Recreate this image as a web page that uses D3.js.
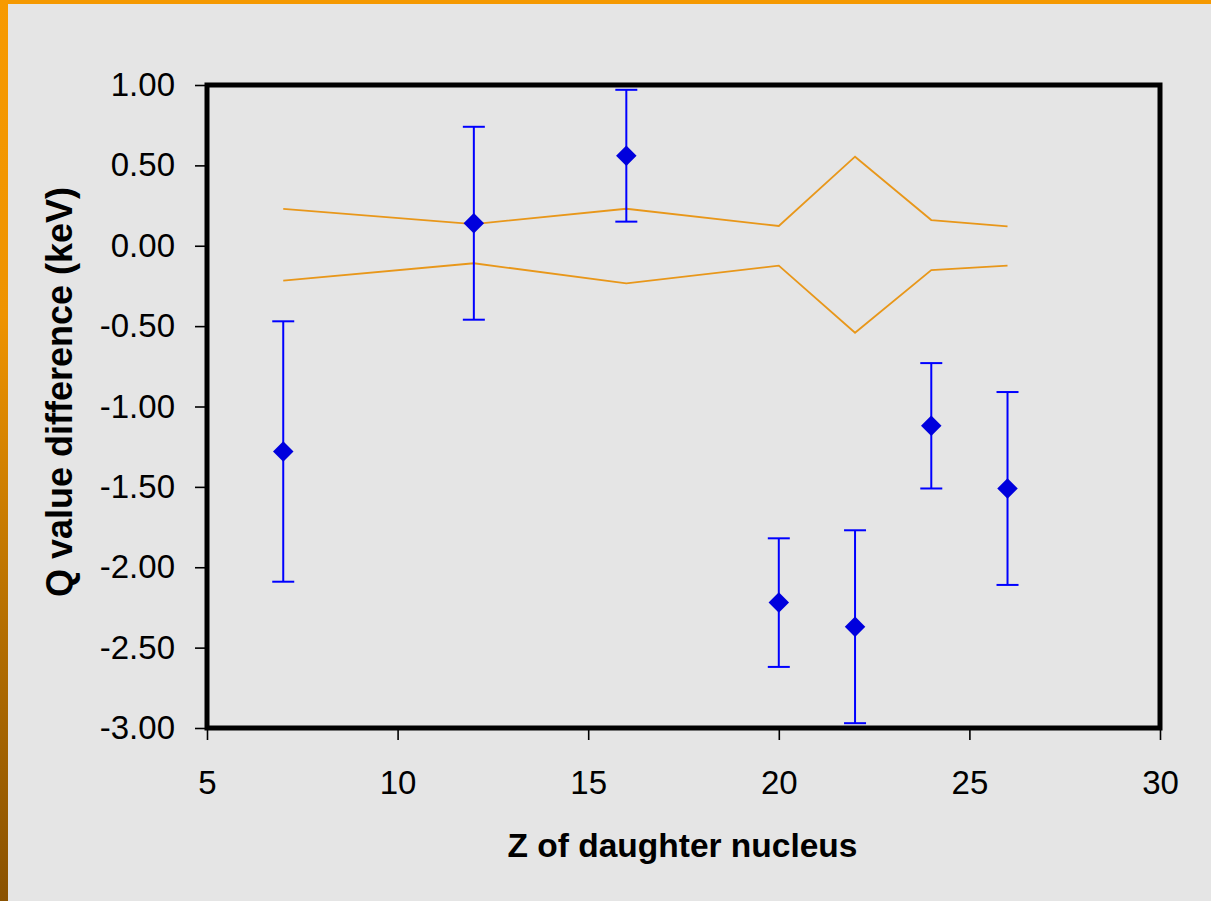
<!DOCTYPE html>
<html>
<head>
<meta charset="utf-8">
<script src="https://cdn.jsdelivr.net/npm/d3@7"></script>
<style>
  html, body { margin: 0; padding: 0; background: #e5e5e5; }
  svg { display: block; }
  text { font-family: "Liberation Sans", Arial, sans-serif; fill: #000; }
</style>
</head>
<body>
<svg id="chart" width="1211" height="901"></svg>
<script>
// Atomic number of the daughter nucleus for each measured decay
const zDaughter = [7, 12, 16, 20, 22, 24, 26];
// Measured Q value difference (keV) and its one-sigma uncertainty
const qDiff = [-1.28, 0.14, 0.56, -2.22, -2.37, -1.12, -1.51];
const qErr  = [0.81, 0.60, 0.41, 0.40, 0.60, 0.39, 0.60];
// Upper and lower edges of the reference uncertainty band (keV)
const bandUpper = [0.23, 0.135, 0.23, 0.123, 0.554, 0.16, 0.121];
const bandLower = [-0.217, -0.109, -0.234, -0.124, -0.541, -0.151, -0.124];
// Axis ticks
const xTicks = [5, 10, 15, 20, 25, 30];
const yTicks = [1.0, 0.5, 0.0, -0.5, -1.0, -1.5, -2.0, -2.5, -3.0];

const W = 1211, H = 901;
const plot = { left: 207, right: 1160, top: 85, bottom: 728 };

const svg = d3.select("#chart");

// Slide frame: orange top strip and left strip fading to brown
const defs = svg.append("defs");
const grad = defs.append("linearGradient")
  .attr("id", "edgeFade").attr("x1", 0).attr("y1", 0).attr("x2", 0).attr("y2", 1);
grad.append("stop").attr("offset", "0%").attr("stop-color", "#f79a00");
grad.append("stop").attr("offset", "35%").attr("stop-color", "#ee9300");
grad.append("stop").attr("offset", "70%").attr("stop-color", "#b46e00");
grad.append("stop").attr("offset", "100%").attr("stop-color", "#8a5200");

svg.append("rect").attr("width", W).attr("height", H).attr("fill", "#e5e5e5");
svg.append("rect").attr("x", 0).attr("y", 0).attr("width", W).attr("height", 4).attr("fill", "#f59900");
svg.append("rect").attr("x", 0).attr("y", 0).attr("width", 8).attr("height", H).attr("fill", "url(#edgeFade)");

const x = d3.scaleLinear().domain([5, 30]).range([plot.left, plot.right]);
const y = d3.scaleLinear().domain([-3, 1]).range([plot.bottom, plot.top]);

// Axes with ticks on the outside
const yAxis = d3.axisLeft(y).tickValues(yTicks).tickSize(12).tickPadding(20)
  .tickFormat(d => d.toFixed(2));
const xAxis = d3.axisBottom(x).tickValues(xTicks).tickSize(12).tickPadding(31)
  .tickFormat(d => String(d));

const gy = svg.append("g").attr("transform", `translate(${plot.left},0)`).call(yAxis);
const gx = svg.append("g").attr("transform", `translate(0,${plot.bottom})`).call(xAxis);
[gy, gx].forEach(g => {
  g.select(".domain").remove();
  g.selectAll(".tick line").attr("stroke", "#000").attr("stroke-width", 1.6);
  g.selectAll(".tick text").attr("font-size", 33).attr("fill", "#000")
    .style("font-family", '"Liberation Sans", Arial, sans-serif');
});

// Uncertainty band edges
const bandLine = vals => d3.line()
  .x((d, i) => x(zDaughter[i]))
  .y(d => y(d))(vals);
svg.append("path").attr("d", bandLine(bandUpper))
  .attr("fill", "none").attr("stroke", "#e8971a").attr("stroke-width", 1.8);
svg.append("path").attr("d", bandLine(bandLower))
  .attr("fill", "none").attr("stroke", "#e8971a").attr("stroke-width", 1.8);

// Error bars
const pts = zDaughter.map((z, i) => ({ z, v: qDiff[i], e: qErr[i] }));
const eb = svg.append("g").attr("stroke", "#0000ff").attr("stroke-width", 2).attr("fill", "none");
const capHalf = 11;
pts.forEach(p => {
  const cx = x(p.z), yt = y(p.v + p.e), yb = y(p.v - p.e);
  eb.append("line").attr("x1", cx).attr("x2", cx).attr("y1", yt).attr("y2", yb);
  eb.append("line").attr("x1", cx - capHalf).attr("x2", cx + capHalf).attr("y1", yt).attr("y2", yt);
  eb.append("line").attr("x1", cx - capHalf).attr("x2", cx + capHalf).attr("y1", yb).attr("y2", yb);
});

// Diamond markers
const diamond = d3.symbol().type(d3.symbolSquare).size(210);
svg.append("g").selectAll("path").data(pts).join("path")
  .attr("d", diamond)
  .attr("transform", d => `translate(${x(d.z)},${y(d.v)}) rotate(45)`)
  .attr("fill", "#0000dd");

// Plot frame
svg.append("rect")
  .attr("x", plot.left).attr("y", plot.top)
  .attr("width", plot.right - plot.left).attr("height", plot.bottom - plot.top)
  .attr("fill", "none").attr("stroke", "#000").attr("stroke-width", 5);

// Axis titles
svg.append("text")
  .attr("x", (plot.left + plot.right) / 2 - 1).attr("y", 857)
  .attr("text-anchor", "middle").attr("font-size", 33.5).attr("font-weight", "bold")
  .text("Z of daughter nucleus");
svg.append("text")
  .attr("transform", `translate(72,392) rotate(-90)`)
  .attr("text-anchor", "middle").attr("font-size", 36).attr("font-weight", "bold")
  .text("Q value difference (keV)");
</script>
</body>
</html>
